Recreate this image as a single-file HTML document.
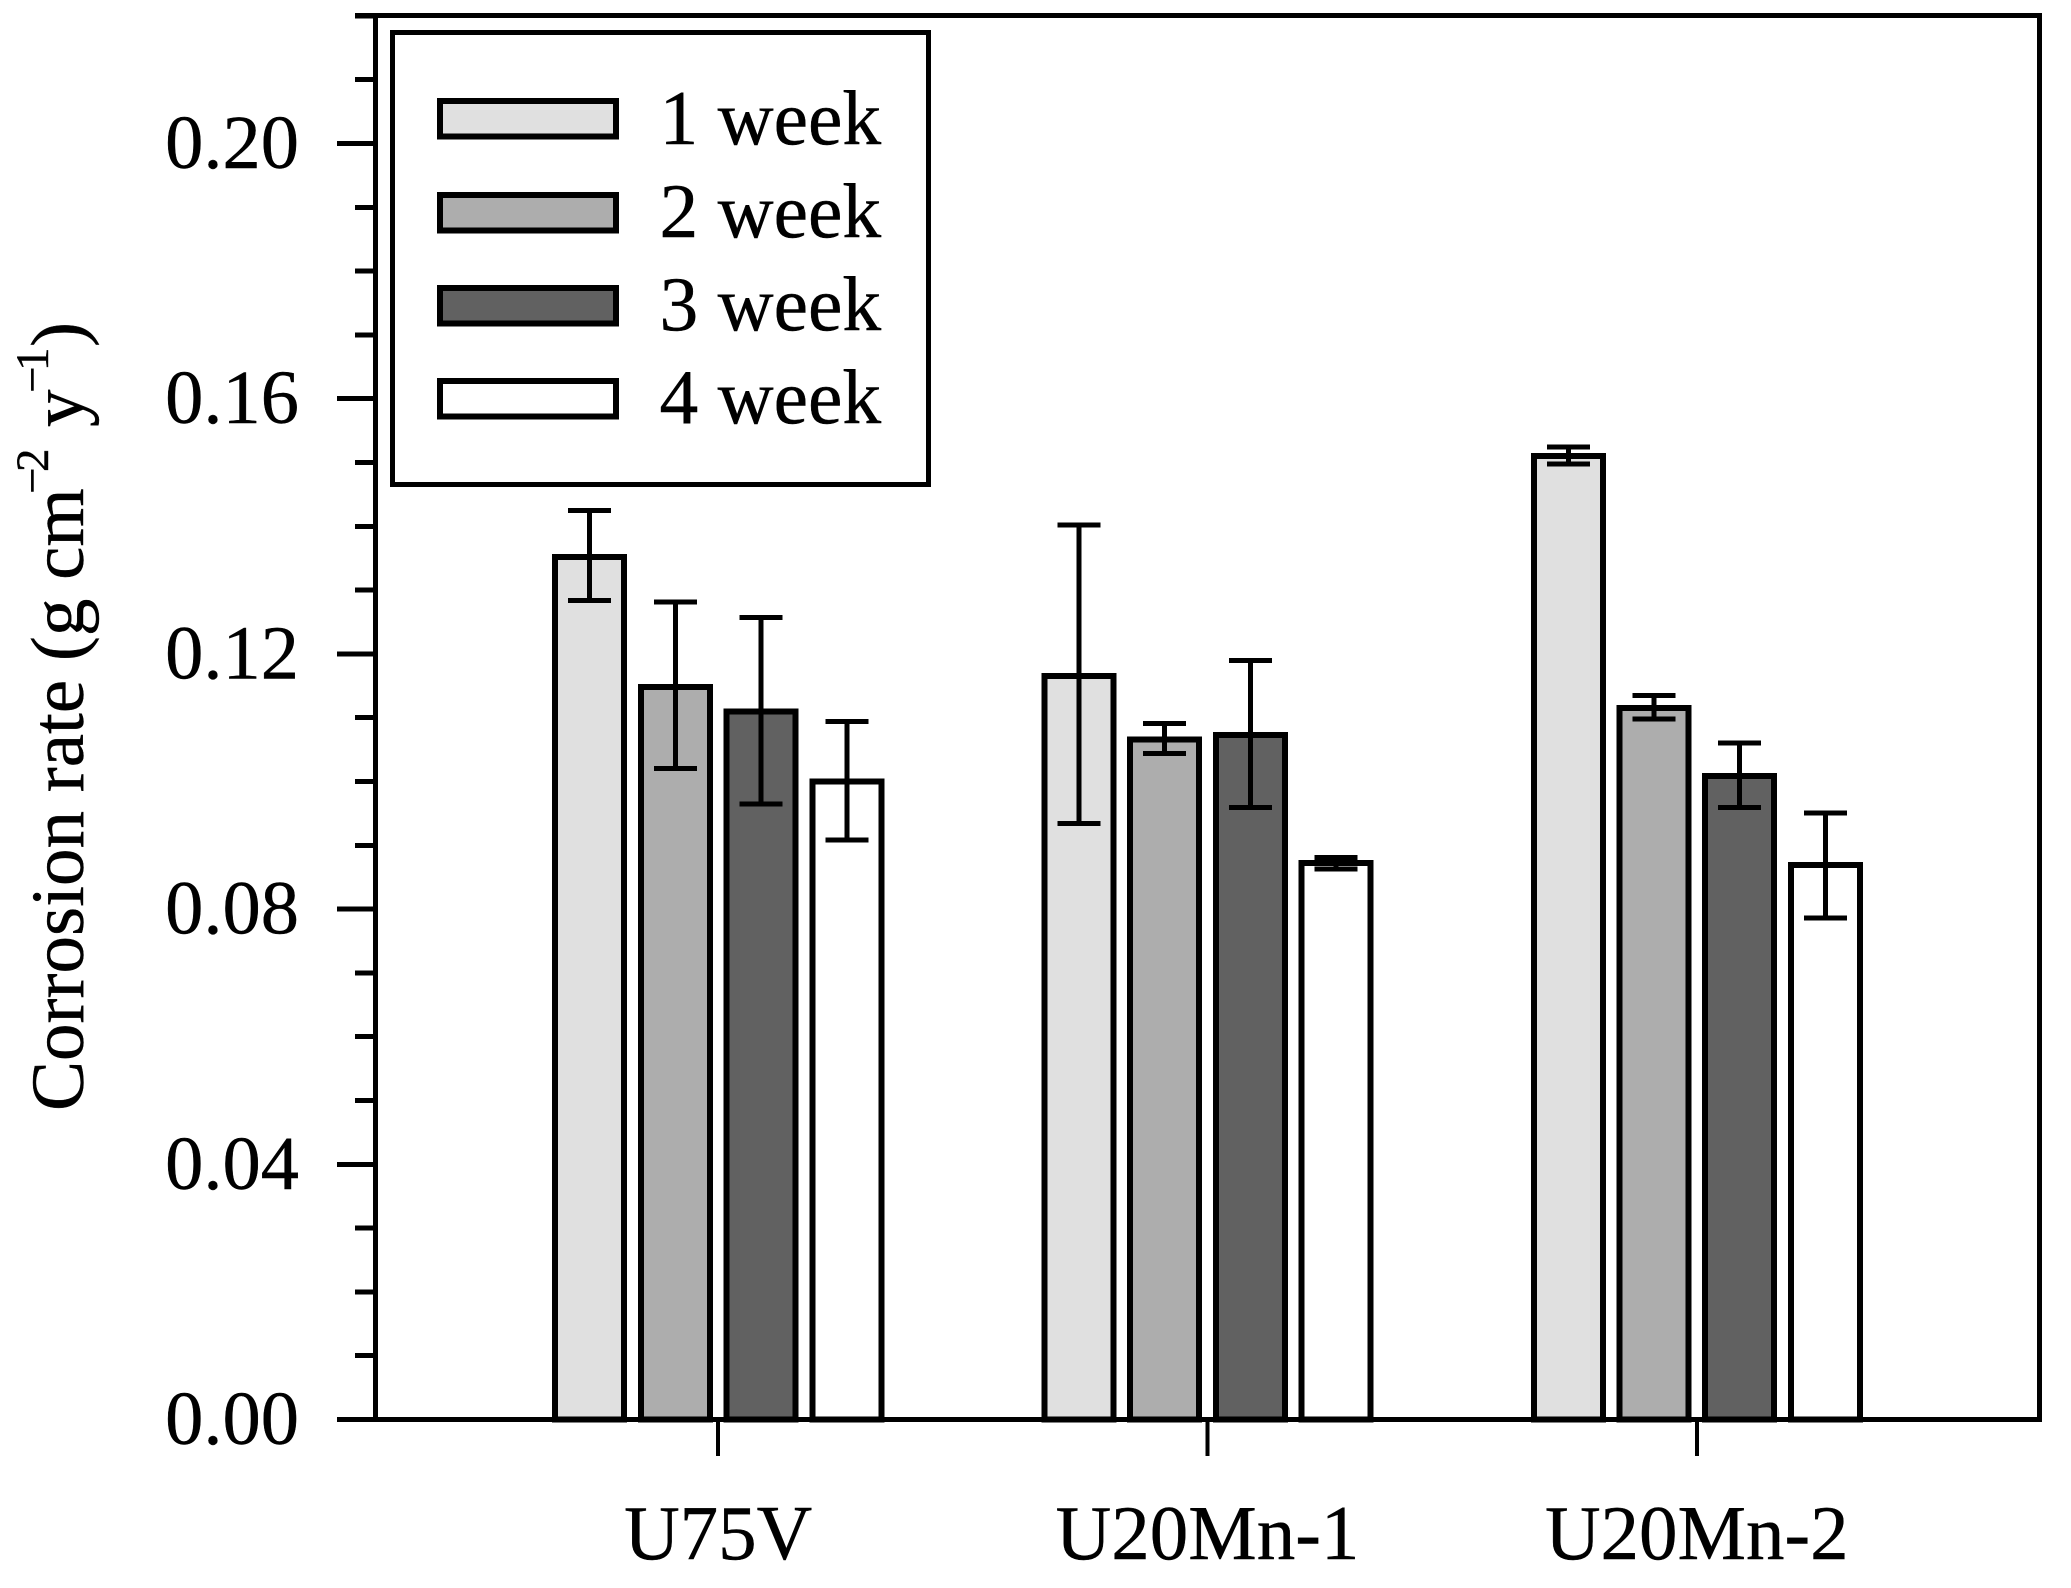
<!DOCTYPE html>
<html lang="en">
<head>
<meta charset="utf-8">
<title>Corrosion rate chart</title>
<style>
html,body{margin:0;padding:0;background:#fff;}
svg{display:block;}
text{font-family:"Liberation Serif",serif;fill:#000;stroke:#000;stroke-width:0.4px;font-size:76.5px;}
.title{font-size:75px;}
.sup{font-size:47px;}
.legend-text{font-size:77.5px;}
.cat{font-size:77px;}
rect,line{shape-rendering:crispEdges;}
</style>
</head>
<body>
<svg id="chart" xmlns="http://www.w3.org/2000/svg" width="2071" height="1588" viewBox="0 0 2071 1588">
<rect x="0" y="0" width="2071" height="1588" fill="#fff"/>
<g id="ticks"></g>
<g id="bars"></g>
<g id="frame"></g>
<g id="errors"></g>
<text class="title" transform="translate(83,1111) rotate(-90)">Corrosion rate (g cm<tspan class="sup" x="617" y="-35">−</tspan><tspan class="sup" x="639" y="-35">2</tspan><tspan x="684" y="0">y</tspan><tspan class="sup" x="718" y="-35">−</tspan><tspan class="sup" x="740" y="-35">1</tspan><tspan x="764" y="0">)</tspan></text>
<g>
<rect x="392.5" y="32.5" width="536" height="452" fill="#fff" stroke="#000" stroke-width="5"/>
<g>
<rect x="440" y="101" width="176" height="35.5" fill="#e0e0e0" stroke="#000" stroke-width="6"/>
<text class="legend-text" x="659.5" y="144">1 week</text>
</g>
<g>
<rect x="440" y="195" width="176" height="35.5" fill="#adadad" stroke="#000" stroke-width="6"/>
<text class="legend-text" x="659.5" y="237">2 week</text>
</g>
<g>
<rect x="440" y="288" width="176" height="35.5" fill="#616161" stroke="#000" stroke-width="6"/>
<text class="legend-text" x="659.5" y="330">3 week</text>
</g>
<g>
<rect x="440" y="381" width="176" height="35.5" fill="#fff" stroke="#000" stroke-width="6"/>
<text class="legend-text" x="659.5" y="423">4 week</text>
</g>
</g>
</svg>
<script>
const categories = ['U75V', 'U20Mn-1', 'U20Mn-2'];
const seriesNames = ['1 week', '2 week', '3 week', '4 week'];
const week1 = [0.1352, 0.1165, 0.1510];
const week2 = [0.1148, 0.1066, 0.1115];
const week3 = [0.1110, 0.1073, 0.1009];
const week4 = [0.1000, 0.0872, 0.0869];
const week1Upper = [0.1425, 0.1402, 0.1524];
const week1Lower = [0.1284, 0.0934, 0.1498];
const week2Upper = [0.1281, 0.1091, 0.1135];
const week2Lower = [0.1020, 0.1044, 0.1098];
const week3Upper = [0.1257, 0.1190, 0.1060];
const week3Lower = [0.0965, 0.0959, 0.0959];
const week4Upper = [0.1094, 0.0881, 0.0951];
const week4Lower = [0.0908, 0.0863, 0.0786];
const majorTickValues = [0.00, 0.04, 0.08, 0.12, 0.16, 0.20];
const majorTickLabels = ['0.00', '0.04', '0.08', '0.12', '0.16', '0.20'];
const minorTickValues = [0.01, 0.02, 0.03, 0.05, 0.06, 0.07, 0.09, 0.10, 0.11, 0.13, 0.14, 0.15, 0.17, 0.18, 0.19, 0.21, 0.22];

const seriesValues = [week1, week2, week3, week4];
const seriesUpper = [week1Upper, week2Upper, week3Upper, week4Upper];
const seriesLower = [week1Lower, week2Lower, week3Lower, week4Lower];
const seriesFills = ['#e0e0e0', '#adadad', '#616161', '#ffffff'];

const NS = 'http://www.w3.org/2000/svg';
const PLOT_LEFT = 375.5, PLOT_RIGHT = 2039.5, PLOT_TOP = 15.5;
const Y0 = 1419.5, Y_SCALE = 6380;
const GROUP_START = 718.2, GROUP_STEP = 489.3, BAR_STEP = 85.7, BAR_W = 69;

function yScale(v) { return Y0 - v * Y_SCALE; }
function groupX(i) { return GROUP_START + i * GROUP_STEP; }
function barX(g, s) { return groupX(g) + (s - (seriesNames.length - 1) / 2) * BAR_STEP; }

function line(parent, x1, y1, x2, y2, w) {
  const el = document.createElementNS(NS, 'line');
  el.setAttribute('x1', x1);
  el.setAttribute('y1', y1);
  el.setAttribute('x2', x2);
  el.setAttribute('y2', y2);
  el.setAttribute('stroke', '#000');
  el.setAttribute('stroke-width', w);
  parent.appendChild(el);
  return el;
}
function label(parent, x, y, anchor, str) {
  const el = document.createElementNS(NS, 'text');
  el.setAttribute('x', x);
  el.setAttribute('y', y);
  el.setAttribute('text-anchor', anchor);
  el.textContent = str;
  parent.appendChild(el);
  return el;
}

const ticksG = document.getElementById('ticks');
const barsG = document.getElementById('bars');
const frameG = document.getElementById('frame');
const errorsG = document.getElementById('errors');

minorTickValues.forEach(function (v) {
  const t = line(ticksG, 355, yScale(v), PLOT_LEFT, yScale(v), 5);
  
  
});
majorTickValues.forEach(function (v, i) {
  const t = line(ticksG, 337, yScale(v), PLOT_LEFT, yScale(v), 5);
  
  
  const l = label(ticksG, 299, yScale(v) + 24.5, 'end', majorTickLabels[i]);
  
  
});

categories.forEach(function (c, g) {
  seriesNames.forEach(function (n, s) {
    const val = seriesValues[s][g];
    const r = document.createElementNS(NS, 'rect');
    r.setAttribute('x', barX(g, s) - BAR_W / 2);
    r.setAttribute('y', yScale(val));
    r.setAttribute('width', BAR_W);
    r.setAttribute('height', Y0 - yScale(val));
    r.setAttribute('fill', seriesFills[s]);
    r.setAttribute('stroke', '#000');
    r.setAttribute('stroke-width', 6);
    
    
    barsG.appendChild(r);

    const x = barX(g, s);
    const up = yScale(seriesUpper[s][g]);
    const lo = yScale(seriesLower[s][g]);
    const stem = line(errorsG, x, up, x, lo, 5);
    
    
    const capU = line(errorsG, x - 21.5, up, x + 21.5, up, 5);
    
    
    const capL = line(errorsG, x - 21.5, lo, x + 21.5, lo, 5);
    
    
  });
  const xt = line(frameG, groupX(g), Y0, groupX(g), 1456, 4);
  
  
  const xl = label(frameG, groupX(g), 1559, 'middle', c);
  xl.setAttribute('class', 'cat');
  
  
});

const leftAxis = line(frameG, PLOT_LEFT, PLOT_TOP, PLOT_LEFT, Y0, 5);


const rightAxis = line(frameG, PLOT_RIGHT, PLOT_TOP - 2.5, PLOT_RIGHT, Y0 + 2.5, 5);


const topAxis = line(frameG, 355, PLOT_TOP, PLOT_RIGHT, PLOT_TOP, 5);


const bottomAxis = line(frameG, 337, Y0, PLOT_RIGHT, Y0, 5);


</script>
</body>
</html>
